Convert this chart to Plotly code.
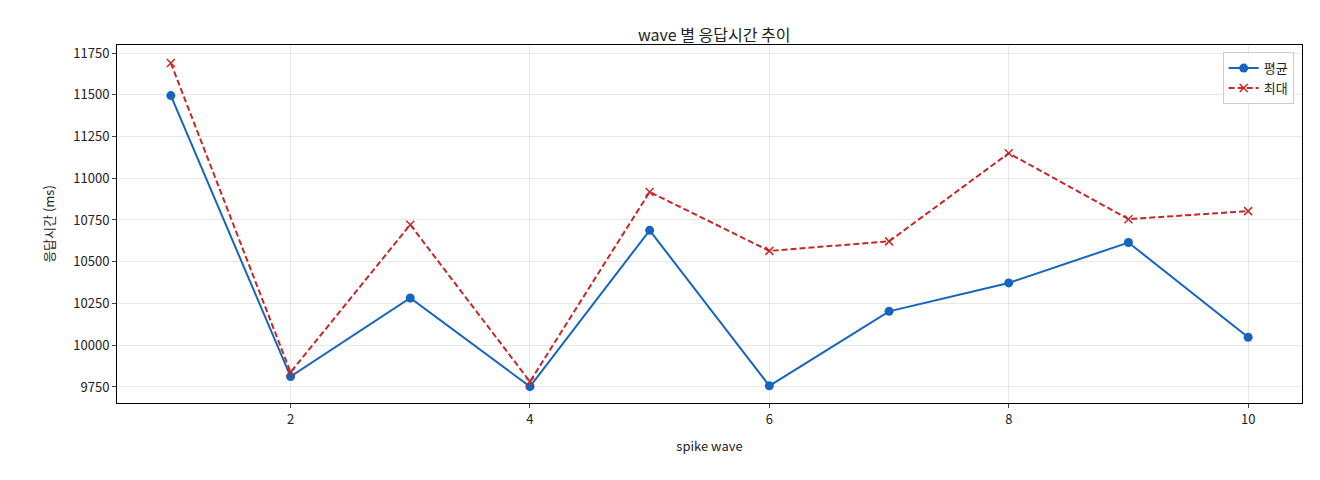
import plotly.graph_objects as go

waves = [1, 2, 3, 4, 5, 6, 7, 8, 9, 10]
avg = [11495, 9812, 10283, 9752, 10688, 9757, 10203, 10373, 10615, 10048]
mx = [11690, 9838, 10722, 9782, 10918, 10565, 10622, 11150, 10755, 10803]

fig = go.Figure()
fig.add_trace(go.Scatter(x=waves, y=avg, name="평균", mode="lines+markers",
                         line=dict(color="#1565c0", width=2), marker=dict(size=9, color="#1565c0")))
fig.add_trace(go.Scatter(x=waves, y=mx, name="최대", mode="lines+markers",
                         line=dict(color="#c62828", width=2, dash="6px,3px"),
                         marker=dict(symbol="x-thin", size=8, line=dict(width=1.5, color="#c62828"), color="#c62828")))
ax = dict(showline=True, linecolor="black", mirror=True, ticks="outside", ticklen=4,
          gridcolor="rgba(0,0,0,0.09)", zeroline=False)
fig.update_layout(
    width=1320, height=480, margin=dict(l=109, r=26, t=37, b=85),
    plot_bgcolor="white", paper_bgcolor="white",
    font=dict(family="Noto Sans CJK KR", size=13, color="#222"),
    title=dict(text="wave 별 응답시간 추이", x=0.535, xanchor="center", y=0.955, font=dict(size=16)),
    xaxis=dict(ax, range=[0.55, 10.45], tickvals=[2, 4, 6, 8, 10], title=dict(text="spike wave", font=dict(size=13))),
    yaxis=dict(ax, range=[9654, 11798], tickvals=list(range(9750, 11751, 250)), tickformat="d",
               title=dict(text="응답시간 (ms)", font=dict(size=13))),
    legend=dict(x=0.993, y=0.98, xanchor="right", yanchor="top", bordercolor="#ccc", borderwidth=1,
                bgcolor="rgba(255,255,255,0.8)"),
)
fig.write_html("out.html")
